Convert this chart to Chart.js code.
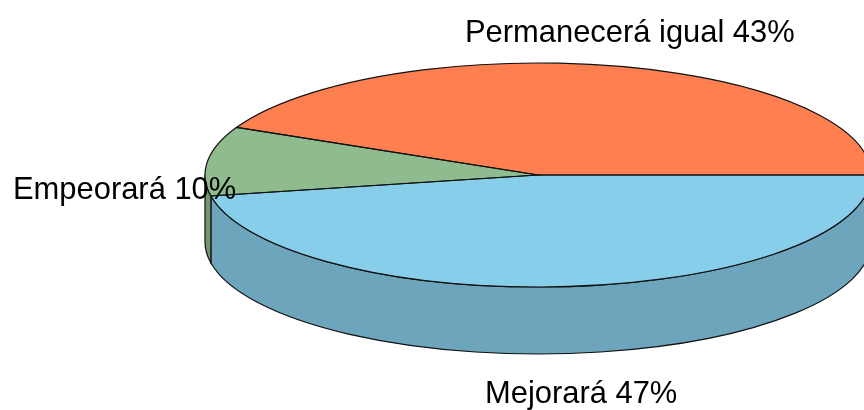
<!DOCTYPE html>
<html><head><meta charset="utf-8">
<style>html,body{margin:0;padding:0;background:#fff}#wrap{position:relative;width:864px;height:410px;overflow:hidden}</style>
<script src="https://cdn.jsdelivr.net/npm/chart.js@4/dist/chart.umd.min.js"></script>
</head><body><div id="wrap"><canvas id="c" width="864" height="410"></canvas></div>
<script>
const categories = ["Mejorará", "Empeorará", "Permanecerá igual"];
const shares = [47, 10, 43];
const sliceColors = ["#87CEEB", "#8FBC8F", "#FF7F50"];
const wallColors = ["#6CA5BC", "#729672", "#CC6640"];

const squash = 112 / 333;
const depth = 67;
const labelFont = '30.9px "Liberation Sans", Arial, sans-serif';
const labelSpots = [[485, 403], [13, 199], [465, 42]];

const pie3d = {
  id: 'pie3d',
  beforeDatasetsDraw(chart) {
    const ctx = chart.ctx;
    const arcs = chart.getDatasetMeta(0).data;
    arcs.forEach((arc, i) => {
      const p = arc.getProps(['x', 'y', 'startAngle', 'endAngle', 'outerRadius'], true);
      const a = Math.max(p.startAngle, 0), b = Math.min(p.endAngle, Math.PI);
      if (b <= a) return;
      const rx = p.outerRadius, ry = rx * squash;
      ctx.save();
      ctx.beginPath();
      ctx.ellipse(p.x, p.y, rx, ry, 0, a, b);
      ctx.ellipse(p.x, p.y + depth, rx, ry, 0, b, a, true);
      ctx.closePath();
      ctx.fillStyle = wallColors[i];
      ctx.fill();
      ctx.lineWidth = 1.2;
      ctx.strokeStyle = '#111';
      ctx.stroke();
      ctx.restore();
    });
    const c = arcs[0].getProps(['x', 'y'], true);
    ctx.save();
    ctx.translate(c.x, c.y);
    ctx.scale(1, squash);
    ctx.translate(-c.x, -c.y);
  },
  afterDatasetsDraw(chart) {
    const ctx = chart.ctx;
    ctx.restore();
    const arcs = chart.getDatasetMeta(0).data;
    arcs.forEach((arc) => {
      const p = arc.getProps(['x', 'y', 'startAngle', 'endAngle', 'outerRadius'], true);
      ctx.save();
      ctx.beginPath();
      ctx.moveTo(p.x, p.y);
      ctx.ellipse(p.x, p.y, p.outerRadius, p.outerRadius * squash, 0, p.startAngle, p.endAngle);
      ctx.closePath();
      ctx.lineWidth = 1.2;
      ctx.strokeStyle = '#111';
      ctx.stroke();
      ctx.restore();
    });
    ctx.save();
    ctx.font = labelFont;
    ctx.fillStyle = '#000';
    ctx.textBaseline = 'alphabetic';
    ctx.textAlign = 'left';
    categories.forEach((name, i) => {
      ctx.fillText(name + ' ' + shares[i] + '%', labelSpots[i][0], labelSpots[i][1]);
    });
    ctx.restore();
  }
};

new Chart(document.getElementById('c'), {
  type: 'pie',
  data: { labels: categories, datasets: [{ data: shares, backgroundColor: sliceColors, borderWidth: 0 }] },
  options: {
    responsive: false,
    animation: false,
    rotation: 90,
    radius: 333,
    layout: { padding: { left: 212, bottom: 60 } },
    plugins: { legend: { display: false }, tooltip: { enabled: false } }
  },
  plugins: [pie3d]
});
</script></body></html>
